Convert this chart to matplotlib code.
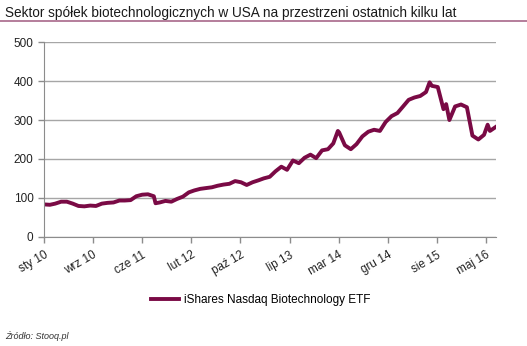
import matplotlib
matplotlib.use("Agg")
import matplotlib.pyplot as plt
import pandas as pd

# monthly readings of the ETF
months = pd.date_range("2010-01-01", "2016-07-01", freq="MS")
values = [83, 82, 85, 90, 90, 85, 79, 78, 80, 79, 85, 87,
          88, 93, 93, 94, 104, 108, 109, 104, 88, 92, 90, 97,
          103, 114, 119, 123, 125, 127, 131, 134, 136, 143, 140, 133,
          140, 145, 150, 154, 168, 180, 172, 196, 189, 203, 211, 202,
          222, 225, 240, 268, 235, 225, 238, 258, 270, 275, 272, 295,
          310, 318, 334, 352, 358, 362, 372, 388, 385, 328, 300, 335,
          340, 333, 260, 250, 262, 272, 282]

# extra spikes between month starts
extra_dates = ["2011-08-10", "2014-03-25", "2015-07-20", "2015-10-15", "2016-05-20"]
extra_values = [86, 272, 397, 341, 288]

tick_labels = ["sty 10", "wrz 10", "cze 11", "lut 12", "paź 12",
               "lip 13", "mar 14", "gru 14", "sie 15", "maj 16"]
series_name = "iShares Nasdaq Biotechnology ETF"
title = "Sektor spółek biotechnologicznych w USA na przestrzeni ostatnich kilku lat"
source = "Źródło: Stooq.pl"

s = pd.Series(values[:len(months)], index=months[:len(values)])
s = pd.concat([s, pd.Series(extra_values, index=pd.to_datetime(extra_dates))]).sort_index()

plt.rcParams["font.family"] = ["Liberation Sans", "DejaVu Sans"]

fig = plt.figure(figsize=(5.27, 3.46), dpi=100)
ax = fig.add_axes([0.0835, 0.316, 0.8577, 0.5617])

line_color = "#7a0a45"
ax.plot(s.index, s.values, color=line_color, lw=2.8, label=series_name,
        solid_joinstyle="round")

start = pd.Timestamp("2010-01-01")
end = start + pd.Timedelta(days=2375)
ax.set_xlim(start, end)
ax.set_ylim(0, 500)

ticks = [start + pd.Timedelta(days=258 * i) for i in range(len(tick_labels))]
ax.set_xticks(ticks)
ax.set_xticklabels(tick_labels, rotation=30, ha="right", rotation_mode="anchor")
ax.set_yticks(range(0, 501, 100))

ax.grid(axis="y", color="#a6a6a6", lw=1)
ax.set_axisbelow(True)
for sp in ["top", "right"]:
    ax.spines[sp].set_visible(False)
for sp in ["left", "bottom"]:
    ax.spines[sp].set_color("#8c8c8c")
ax.tick_params(axis="both", colors="#8c8c8c", labelcolor="#222222",
               labelsize=8.5, length=4, width=1)
ax.tick_params(axis="x", pad=5)

fig.text(0.01, 0.962, title, fontsize=9.8, color="#1a1a1a", va="center")
fig.add_artist(plt.Line2D([0, 1], [0.94, 0.94], transform=fig.transFigure,
                          color="#a8678a", lw=1.2))

fig.legend(handles=ax.get_lines(), loc="center", bbox_to_anchor=(0.495, 0.133),
           frameon=False, fontsize=8.5, handlelength=2.4, handletextpad=0.4)
fig.text(0.01, 0.02, source, fontsize=6.5, style="italic", color="#333333")

fig.savefig("out.png", dpi=100)
